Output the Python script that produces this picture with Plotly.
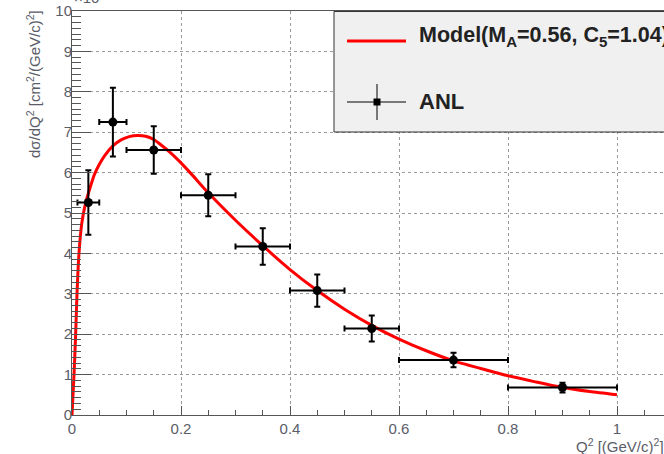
import plotly.graph_objects as go

# ANL data points
anl_x = [0.03, 0.075, 0.15, 0.25, 0.35, 0.45, 0.55, 0.70, 0.90]
anl_y = [5.26, 7.25, 6.56, 5.44, 4.17, 3.08, 2.14, 1.36, 0.68]
anl_xerr = [0.02, 0.025, 0.05, 0.05, 0.05, 0.05, 0.05, 0.10, 0.10]
anl_yerr = [0.80, 0.85, 0.59, 0.52, 0.45, 0.40, 0.32, 0.18, 0.12]

# Model curve
model_x = [0, 0.0037, 0.0067, 0.0092, 0.0128, 0.018, 0.025, 0.033, 0.041, 0.05,
           0.06, 0.075, 0.09, 0.105, 0.12, 0.135, 0.15, 0.16, 0.18, 0.20,
           0.22, 0.25, 0.30, 0.35, 0.40, 0.45, 0.50, 0.55, 0.60, 0.65,
           0.70, 0.75, 0.80, 0.85, 0.90, 0.95, 1.0]
model_y = [0, 1.0, 2.0, 3.0, 4.0, 4.75, 5.25, 5.62, 5.95, 6.20,
           6.42, 6.66, 6.81, 6.89, 6.92, 6.90, 6.82, 6.72, 6.50, 6.24,
           5.95, 5.50, 4.82, 4.19, 3.60, 3.08, 2.62, 2.22, 1.88, 1.59,
           1.34, 1.15, 0.97, 0.82, 0.68, 0.58, 0.50]

W, H = 664, 454
ML, MT, MB = 72, 11, 39
PW, PH = W - ML, H - MT - MB

def px(xp):
    return (xp - ML) / PW

def py(yp):
    return (H - MB - yp) / PH

FONT = "Liberation Sans, Arial, sans-serif"
LABEL_COLOR = "#5a5d68"
AXIS_COLOR = "#555555"

fig = go.Figure()

fig.add_trace(go.Scatter(
    x=model_x, y=model_y, mode="lines",
    line=dict(color="#ff0000", width=3, shape="spline", smoothing=0.6),
    showlegend=False, hoverinfo="skip",
))

fig.add_trace(go.Scatter(
    x=anl_x, y=anl_y, mode="markers",
    marker=dict(color="black", size=9, symbol="circle"),
    error_x=dict(type="data", array=anl_xerr, color="black", thickness=2, width=3),
    error_y=dict(type="data", array=anl_yerr, color="black", thickness=2, width=3),
    showlegend=False,
))

x_max = (W - ML) / 545.0

fig.update_layout(
    width=W, height=H,
    margin=dict(l=ML, r=0, t=MT, b=MB, autoexpand=False),
    paper_bgcolor="white", plot_bgcolor="white",
    font=dict(family=FONT, color=LABEL_COLOR, size=15),
    xaxis=dict(
        range=[0, x_max],
        tickvals=[0, 0.2, 0.4, 0.6, 0.8, 1.0],
        ticktext=["0", "0.2", "0.4", "0.6", "0.8", "1"],
        ticks="inside", ticklen=9, tickwidth=1, tickcolor=AXIS_COLOR,
        minor=dict(ticks="inside", ticklen=5, dtick=0.05, tick0=0,
                   tickcolor=AXIS_COLOR, showgrid=False),
        showline=True, linecolor=AXIS_COLOR, linewidth=1, mirror=True,
        showgrid=True, gridcolor="#9a9a9a", griddash="dot", gridwidth=1,
        zeroline=False, tickfont=dict(size=15, color=LABEL_COLOR),
        automargin=False,
    ),
    yaxis=dict(
        range=[0, 10], dtick=1, tick0=0,
        ticks="inside", ticklen=19, tickwidth=1, tickcolor=AXIS_COLOR,
        minor=dict(ticks="inside", ticklen=9, dtick=1/7, tick0=0,
                   tickcolor=AXIS_COLOR, showgrid=False),
        showline=True, linecolor=AXIS_COLOR, linewidth=1, mirror=False,
        showgrid=True, gridcolor="#9a9a9a", griddash="dot", gridwidth=1,
        zeroline=False, tickfont=dict(size=15, color=LABEL_COLOR),
        ticklabelstandoff=-4, automargin=False,
    ),
)

# Legend box (ROOT style)
fig.add_shape(type="rect", xref="paper", yref="paper",
              x0=px(334), x1=px(W + 10), y0=py(132), y1=py(11.5),
              fillcolor="#f0f0f0", line=dict(color="#333333", width=1),
              layer="above")
fig.add_shape(type="line", xref="paper", yref="paper",
              x0=px(347), x1=px(406), y0=py(41), y1=py(41),
              line=dict(color="#ff0000", width=3), layer="above")
fig.add_shape(type="line", xref="paper", yref="paper",
              x0=px(347), x1=px(406), y0=py(102), y1=py(102),
              line=dict(color="black", width=1), layer="above")
fig.add_shape(type="line", xref="paper", yref="paper",
              x0=px(377), x1=px(377), y0=py(84), y1=py(120),
              line=dict(color="black", width=1), layer="above")
fig.add_shape(type="rect", xref="paper", yref="paper",
              x0=px(373.5), x1=px(380.5), y0=py(105.5), y1=py(98.5),
              fillcolor="black", line=dict(color="black", width=0), layer="above")

fig.add_annotation(xref="paper", yref="paper", x=px(417), y=py(36),
                   xanchor="left", yanchor="middle", showarrow=False,
                   text="<b>Model(M<sub>A</sub>=0.56, C<sub>5</sub>=1.04)</b>",
                   font=dict(family=FONT, size=21.5, color="#222222"))
fig.add_annotation(xref="paper", yref="paper", x=px(417), y=py(102),
                   xanchor="left", yanchor="middle", showarrow=False,
                   text="<b>ANL</b>",
                   font=dict(family=FONT, size=22, color="#222222"))

# Axis titles
fig.add_annotation(xref="paper", yref="paper", x=px(33), y=py(8),
                   xanchor="center", yanchor="top", showarrow=False,
                   textangle=-90,
                   text="dσ/dQ<sup>2</sup> [cm<sup>2</sup>/(GeV/c)<sup>2</sup>]",
                   font=dict(family=FONT, size=15, color=LABEL_COLOR))
fig.add_annotation(xref="paper", yref="paper", x=px(574), y=py(445),
                   xanchor="left", yanchor="middle", showarrow=False,
                   text="Q<sup>2</sup> [(GeV/c)<sup>2</sup>]",
                   font=dict(family=FONT, size=15, color=LABEL_COLOR))
# Exponent label (mostly cut off at the top edge)
fig.add_annotation(xref="paper", yref="paper", x=px(72), y=py(8),
                   xanchor="left", yanchor="bottom", showarrow=False,
                   text="×10<sup>-38</sup>",
                   font=dict(family=FONT, size=15, color=LABEL_COLOR))

fig.write_html("out.html",
               config={"displayModeBar": False},
               post_script="document.body.style.margin='0';document.body.style.overflow='hidden';")
